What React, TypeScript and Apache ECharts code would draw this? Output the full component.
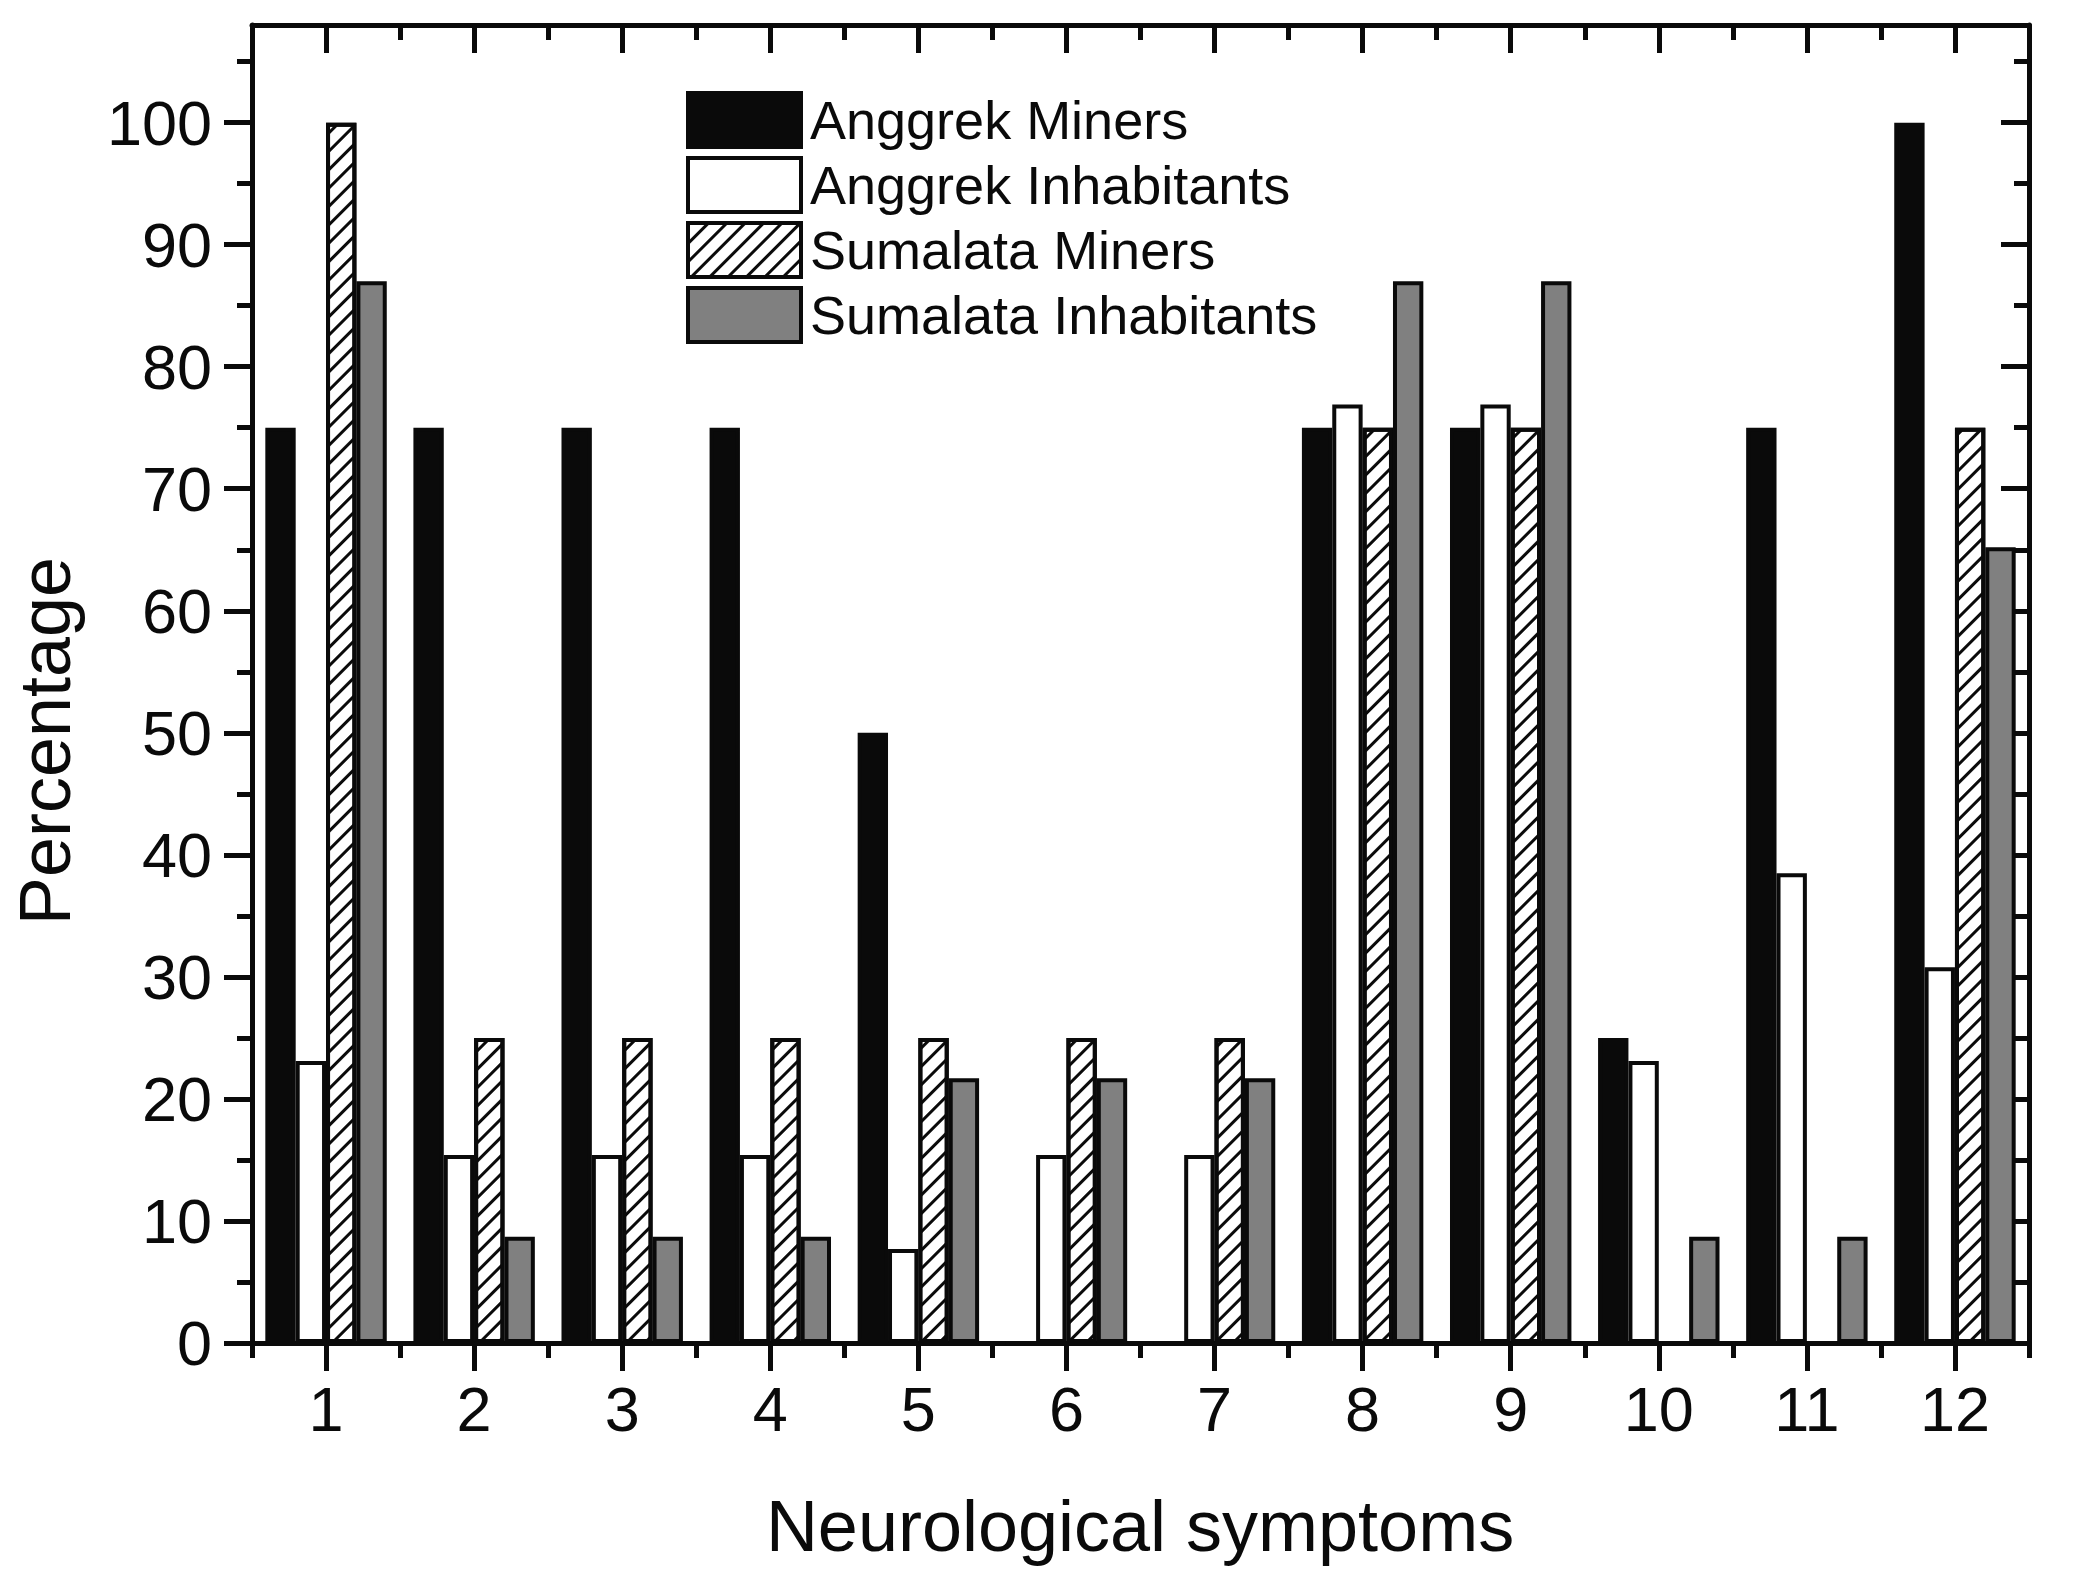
import React, { useEffect, useRef } from "react";
import * as echarts from "echarts";

const categories = ["1", "2", "3", "4", "5", "6", "7", "8", "9", "10", "11", "12"];
const seriesNames = ["Anggrek Miners", "Anggrek Inhabitants", "Sumalata Miners", "Sumalata Inhabitants"];
const anggrekMiners = [75, 75, 75, 75, 50, 0, 0, 75, 75, 25, 75, 100];
const anggrekInhabitants = [23.1, 15.4, 15.4, 15.4, 7.7, 15.4, 15.4, 76.9, 76.9, 23.1, 38.5, 30.8];
const sumalataMiners = [100, 25, 25, 25, 25, 25, 25, 75, 75, 0, 0, 75];
const sumalataInhabitants = [87, 8.7, 8.7, 8.7, 21.7, 21.7, 21.7, 87, 87, 8.7, 8.7, 65.2];
const yMajorTicks = [0, 10, 20, 30, 40, 50, 60, 70, 80, 90, 100];
const yMinorTicks = [5, 15, 25, 35, 45, 55, 65, 75, 85, 95, 105];
const yMin = 0;
const yMax = 108;

const FONT = "'Liberation Sans', Arial, Helvetica, sans-serif";
const INK = "#0a0a0a";
const LW = 5;

export default function App() {
  const ref = useRef<HTMLDivElement>(null);

  useEffect(() => {
    if (!ref.current) return;
    const chart = echarts.init(ref.current, null, { renderer: "svg" });

    const baseX = (position: string, inside: boolean, major: boolean, showLine: boolean, showLabel: boolean) => ({
      type: "category",
      data: categories,
      position,
      boundaryGap: true,
      axisLine: { show: showLine, onZero: false, lineStyle: { color: INK, width: LW } },
      axisTick: {
        show: true,
        inside,
        alignWithLabel: major,
        length: major ? 28 : 15,
        lineStyle: { color: INK, width: LW },
      },
      axisLabel: {
        show: showLabel,
        color: INK,
        fontSize: 63,
        fontFamily: FONT,
        margin: 34,
      },
      splitLine: { show: false },
    });

    const baseY = (position: string, inside: boolean, major: boolean, showLine: boolean, showLabel: boolean) => ({
      type: "value",
      min: yMin,
      max: yMax,
      position,
      axisLine: { show: showLine, onZero: false, lineStyle: { color: INK, width: LW } },
      axisTick: {
        show: true,
        inside,
        length: major ? 28 : 15,
        customValues: major ? yMajorTicks : yMinorTicks,
        lineStyle: { color: INK, width: LW },
      },
      axisLabel: {
        show: showLabel,
        customValues: yMajorTicks,
        color: INK,
        fontSize: 63,
        fontFamily: FONT,
        margin: 40,
      },
      splitLine: { show: false },
    });

    const barCommon = {
      type: "bar",
      xAxisIndex: 0,
      yAxisIndex: 0,
      barGap: "0%",
      barCategoryGap: "18%",
    };

    const option = {
      animation: false,
      backgroundColor: "#ffffff",
      grid: { left: 252, right: 45, top: 25, bottom: 246, containLabel: false },
      legend: {
        orient: "vertical",
        left: 681,
        top: 86,
        itemWidth: 113,
        itemHeight: 54,
        itemGap: 7,
        icon: "rect",
        selectedMode: false,
        itemStyle: { borderColor: INK, borderWidth: 4 },
        textStyle: { color: INK, fontSize: 54, lineHeight: 54, fontFamily: FONT, padding: [0, 0, 0, 4] },
        data: seriesNames,
      },
      xAxis: [
        baseX("bottom", false, true, true, true),
        baseX("bottom", false, false, false, false),
        baseX("top", true, true, true, false),
        baseX("top", true, false, false, false),
      ],
      yAxis: [
        baseY("left", false, true, true, true),
        baseY("left", false, false, false, false),
        baseY("right", true, true, true, false),
        baseY("right", true, false, false, false),
      ],
      graphic: [
        {
          type: "text",
          x: 45,
          y: 741,
          rotation: Math.PI / 2,
          style: {
            text: "Percentage",
            fill: INK,
            font: `72px ${FONT}`,
            textAlign: "center",
            textVerticalAlign: "middle",
          },
        },
        {
          type: "text",
          x: 1140,
          y: 1526,
          style: {
            text: "Neurological symptoms",
            fill: INK,
            font: `72px ${FONT}`,
            textAlign: "center",
            textVerticalAlign: "middle",
          },
        },
      ],
      series: [
        {
          ...barCommon,
          name: seriesNames[0],
          data: anggrekMiners,
          itemStyle: { color: INK, borderColor: INK, borderWidth: 4 },
        },
        {
          ...barCommon,
          name: seriesNames[1],
          data: anggrekInhabitants,
          itemStyle: { color: "#ffffff", borderColor: INK, borderWidth: 4 },
        },
        {
          ...barCommon,
          name: seriesNames[2],
          data: sumalataMiners,
          itemStyle: {
            color: "#ffffff",
            borderColor: INK,
            borderWidth: 4,
            decal: {
              symbol: "rect",
              symbolSize: 1,
              color: INK,
              backgroundColor: "#ffffff",
              dashArrayX: [1, 0],
              dashArrayY: [3, 10],
              rotation: -Math.PI / 4,
            },
          },
        },
        {
          ...barCommon,
          name: seriesNames[3],
          data: sumalataInhabitants,
          itemStyle: { color: "#808080", borderColor: INK, borderWidth: 4 },
        },
      ],
    };

    chart.setOption(option as any);
    return () => chart.dispose();
  }, []);

  return (
    <div
      ref={ref}
      style={{ position: "fixed", left: 0, top: 0, width: "2074px", height: "1589px", background: "#fff" }}
    />
  );
}
